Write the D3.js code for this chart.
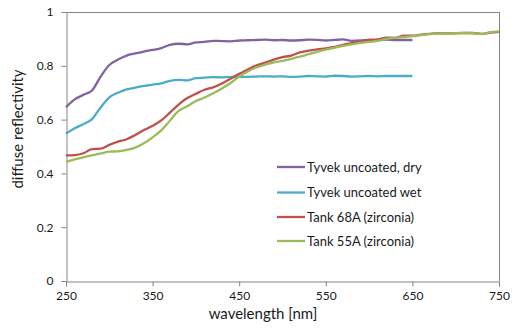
<!DOCTYPE html>
<html><head><meta charset="utf-8">
<script src="https://cdn.jsdelivr.net/npm/d3@7"></script>
<style>body{margin:0;background:#fff}svg{display:block}text{font-family:Lato,"Open Sans",sans-serif;fill:#1a1a1a}</style>
</head><body><svg id="c" width="523" height="329"></svg>
<script>
const wlTyvek = [250,260,270,280,290,300,310,320,330,340,350,360,370,380,390,400,410,420,430,440,450,460,470,480,490,500,510,520,530,540,550,560,570,580,590,600,610,620,630,640,650];
const wlTank = [250,260,270,280,290,300,310,320,330,340,350,360,370,380,390,400,410,420,430,440,450,460,470,480,490,500,510,520,530,540,550,560,570,580,590,600,610,620,630,640,650,660,670,680,690,700,710,720,730,740,750];
const tyvekDry = [0.646,0.675,0.692,0.708,0.760,0.803,0.823,0.838,0.846,0.853,0.859,0.866,0.878,0.882,0.880,0.887,0.889,0.893,0.892,0.891,0.894,0.895,0.896,0.897,0.895,0.896,0.894,0.895,0.897,0.896,0.894,0.896,0.898,0.893,0.894,0.896,0.895,0.897,0.896,0.896,0.896];
const tyvekWet = [0.548,0.568,0.583,0.602,0.645,0.683,0.700,0.712,0.719,0.725,0.730,0.735,0.744,0.748,0.746,0.754,0.756,0.758,0.757,0.758,0.759,0.759,0.760,0.761,0.760,0.761,0.759,0.760,0.762,0.761,0.760,0.763,0.762,0.760,0.761,0.762,0.761,0.762,0.762,0.762,0.762];
const tank68A = [0.467,0.468,0.475,0.490,0.492,0.506,0.518,0.527,0.543,0.561,0.577,0.597,0.626,0.656,0.680,0.696,0.711,0.720,0.734,0.752,0.770,0.786,0.802,0.812,0.823,0.832,0.838,0.850,0.856,0.861,0.865,0.870,0.878,0.884,0.890,0.896,0.898,0.905,0.904,0.912,0.912,0.916,0.919,0.921,0.920,0.921,0.922,0.922,0.919,0.923,0.926];
const tank55A = [0.443,0.452,0.460,0.467,0.474,0.481,0.482,0.487,0.496,0.512,0.534,0.560,0.596,0.632,0.650,0.669,0.682,0.698,0.716,0.736,0.760,0.779,0.794,0.804,0.813,0.818,0.826,0.834,0.843,0.852,0.860,0.867,0.874,0.880,0.885,0.889,0.893,0.900,0.904,0.907,0.910,0.914,0.918,0.920,0.919,0.921,0.922,0.921,0.918,0.925,0.928];
const seriesNames = ["Tyvek uncoated, dry","Tyvek uncoated wet","Tank 68A (zirconia)","Tank 55A (zirconia)"];
const seriesColors = ["#8064A2","#4BACC6","#C0504D","#9BBB59"];
const xTicks = [250,350,450,550,650,750];
const yTicks = [0,0.2,0.4,0.6,0.8,1];

const series = [
  {name:seriesNames[0], color:seriesColors[0], x:wlTyvek, y:tyvekDry},
  {name:seriesNames[1], color:seriesColors[1], x:wlTyvek, y:tyvekWet},
  {name:seriesNames[2], color:seriesColors[2], x:wlTank, y:tank68A},
  {name:seriesNames[3], color:seriesColors[3], x:wlTank, y:tank55A}
];

const svg = d3.select("#c");
const L=66, R=499, T=12, B=281;
const x = d3.scaleLinear().domain([250,750]).range([L,R]);
const y = d3.scaleLinear().domain([0,1]).range([B,T]);
const axisColor = "#868686";

svg.append("line").attr("x1",L).attr("x2",R).attr("y1",T+0.5).attr("y2",T+0.5).attr("stroke",axisColor);
svg.append("line").attr("x1",R+0.5).attr("x2",R+0.5).attr("y1",T).attr("y2",B).attr("stroke",axisColor);

const gx = svg.append("g").attr("transform",`translate(0,${B+0.5})`)
  .call(d3.axisBottom(x).tickValues(xTicks).tickSize(5).tickPadding(5).tickFormat(d3.format("d")));
const gy = svg.append("g").attr("transform",`translate(${L+0.5},0)`)
  .call(d3.axisLeft(y).tickValues(yTicks).tickSize(5).tickPadding(8).tickFormat(d=>String(+d.toFixed(1))));
[gx,gy].forEach(g=>{
  g.select(".domain").attr("stroke",axisColor);
  g.selectAll(".tick line").attr("stroke",axisColor);
  g.selectAll(".tick text").attr("fill","#1a1a1a").style("font-size","12px").style("font-family","Lato, 'Open Sans', sans-serif");
});

const line = d3.line().x(d=>x(d[0])).y(d=>y(d[1])).curve(d3.curveMonotoneX);
series.forEach(s=>{
  svg.append("path").datum(s.x.map((v,i)=>[v,s.y[i]]))
    .attr("d",line).attr("fill","none").attr("stroke",s.color).attr("stroke-width",2.3).attr("stroke-linejoin","round");
});

const legY = [167,192.5,217,241];
series.forEach((s,i)=>{
  svg.append("line").attr("x1",277).attr("x2",305).attr("y1",legY[i]).attr("y2",legY[i]).attr("stroke",s.color).attr("stroke-width",2.3);
  svg.append("text").attr("x",307).attr("y",legY[i]).attr("dy","0.35em").style("font-size","13px").text(s.name);
});

svg.append("text").attr("x",263).attr("y",319).attr("text-anchor","middle").style("font-size","15px").text("wavelength [nm]");
svg.append("text").attr("transform",`translate(23,129) rotate(-90)`).attr("text-anchor","middle").style("font-size","15px").text("diffuse reflectivity");
</script></body></html>
